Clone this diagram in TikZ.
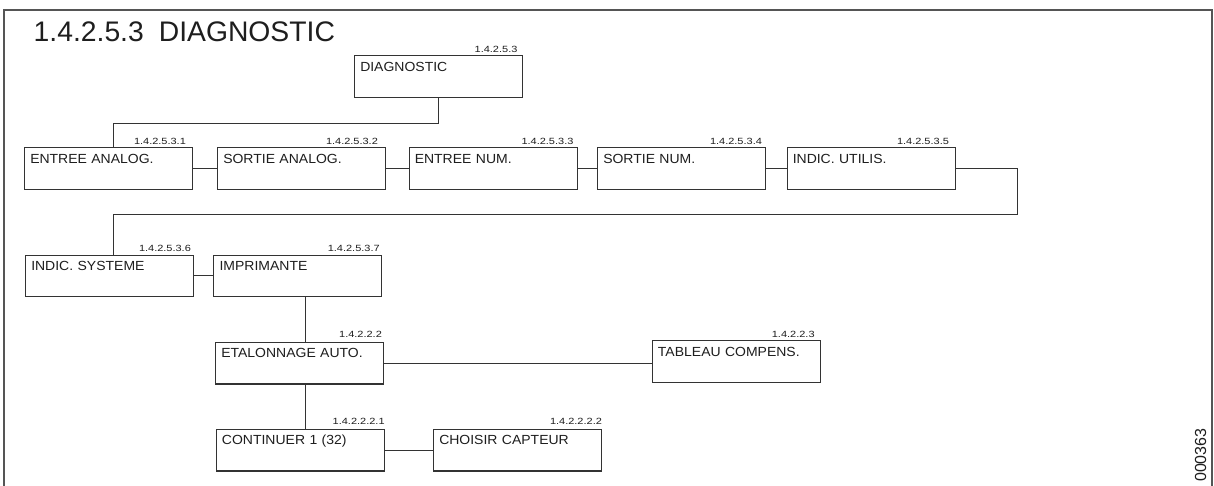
\documentclass[tikz,border=0pt]{standalone}
\usepackage{fontspec}
\setmainfont{Liberation Sans}
\newfontfamily\boxfont{Liberation Sans}[FakeStretch=1.06]
\newfontfamily\lblfont{Liberation Sans}[FakeStretch=1.22]
\usetikzlibrary{calc}
\definecolor{ink}{HTML}{1E1E1E}
\definecolor{edge}{HTML}{333333}
\definecolor{framec}{HTML}{555555}
\begin{document}
\begin{tikzpicture}[x=1pt,y=1pt,
  box/.style={draw=edge, line width=1.1pt, anchor=north west, text=ink,
    font=\boxfont\fontsize{13.2pt}{15pt}\selectfont,
    text width=156.6pt, align=left, inner xsep=5.7pt, inner ysep=0pt,
    text height=15.5pt, text depth=26.2pt},
  lbl/.style={font=\lblfont\fontsize{9pt}{10pt}\selectfont, inner sep=0pt,
    anchor=base east, text=ink},
  conn/.style={draw=edge, line width=1pt},
  frame/.style={draw=framec, line width=1.6pt},
  title/.style={font=\fontsize{28.3pt}{32pt}\selectfont, inner sep=0pt,
    anchor=base west, text=ink}
]
\useasboundingbox (0,0) rectangle (1214,-485);
\fill[white] (0,0) rectangle (1214,-485);
% frame
\draw[frame] (4,-486) -- (4,-10) -- (1212,-10) -- (1212,-486);
% title
\node[title] (ttl) at (33.5,-41) {1.4.2.5.3\hspace{15pt}DIAGNOSTIC};
% boxes
\node[box] (diag) at (354,-55) {DIAGNOSTIC};
\node[box] (ea) at (24,-147.3) {ENTREE ANALOG.};
\node[box] (sa) at (217,-147.3) {SORTIE ANALOG.};
\node[box] (en) at (408.5,-147.3) {ENTREE NUM.};
\node[box] (sn) at (597,-147.3) {SORTIE NUM.};
\node[box] (iu) at (786.5,-147.3) {INDIC. UTILIS.};
\node[box] (is) at (25,-254.5) {INDIC. SYSTEME};
\node[box] (imp) at (213.3,-254.5) {IMPRIMANTE};
\node[box] (eta) at (215,-341.7) {ETALONNAGE AUTO.};
\node[box] (tab) at (651.7,-340) {TABLEAU COMPENS.};
\node[box] (cont) at (215.7,-428.7) {CONTINUER 1 (32)};
\node[box] (cho) at (433,-428.7) {CHOISIR CAPTEUR};
% reference labels
\node[lbl] (diag-n) at ($(diag.north east)+(-5.5,2.5)$) {1.4.2.5.3};
\node[lbl] (ea-n) at ($(ea.north east)+(-7,2.5)$) {1.4.2.5.3.1};
\node[lbl] (sa-n) at ($(sa.north east)+(-8,2.5)$) {1.4.2.5.3.2};
\node[lbl] (en-n) at ($(en.north east)+(-4,2.5)$) {1.4.2.5.3.3};
\node[lbl] (sn-n) at ($(sn.north east)+(-4,2.5)$) {1.4.2.5.3.4};
\node[lbl] (iu-n) at ($(iu.north east)+(-6.5,2.5)$) {1.4.2.5.3.5};
\node[lbl] (is-n) at ($(is.north east)+(-3,3.5)$) {1.4.2.5.3.6};
\node[lbl] (imp-n) at ($(imp.north east)+(-2.5,3.5)$) {1.4.2.5.3.7};
\node[lbl] (eta-n) at ($(eta.north east)+(-2,4)$) {1.4.2.2.2};
\node[lbl] (tab-n) at ($(tab.north east)+(-6,2.7)$) {1.4.2.2.3};
\node[lbl] (cont-n) at ($(cont.north east)+(0,4.5)$) {1.4.2.2.2.1};
\node[lbl] (cho-n) at ($(cho.north east)+(0,4.5)$) {1.4.2.2.2.2};
% connectors
\coordinate (j1) at (113.3,-123);
\draw[conn] (diag.south) |- (j1) -- (j1 |- ea.north);
\draw[conn] (ea.east) -- (sa.west);
\draw[conn] (sa.east) -- (en.west);
\draw[conn] (en.east) -- (sn.west);
\draw[conn] (sn.east) -- (iu.west);
\coordinate (j2) at (1017.3,-214.7);
\coordinate (j3) at (113.3,-214.7);
\draw[conn] (iu.east) -| (j2) -- (j3) -- (j3 |- is.north);
\draw[conn] (is.east) -- (imp.west);
\coordinate (v) at (305,0);
\draw[conn] (v |- imp.south) -- (v |- eta.north);
\draw[conn] (v |- eta.south) -- (v |- cont.north);
\draw[conn] (eta.east) -- (eta.east -| tab.west);
\draw[conn] (cont.east) -- (cho.west);
% drawing code
\node[rotate=90, anchor=base west, inner sep=0pt, text=ink,
  font=\fontsize{16pt}{18pt}\selectfont] (code) at (1206,-482) {000363};
\end{tikzpicture}
\end{document}
